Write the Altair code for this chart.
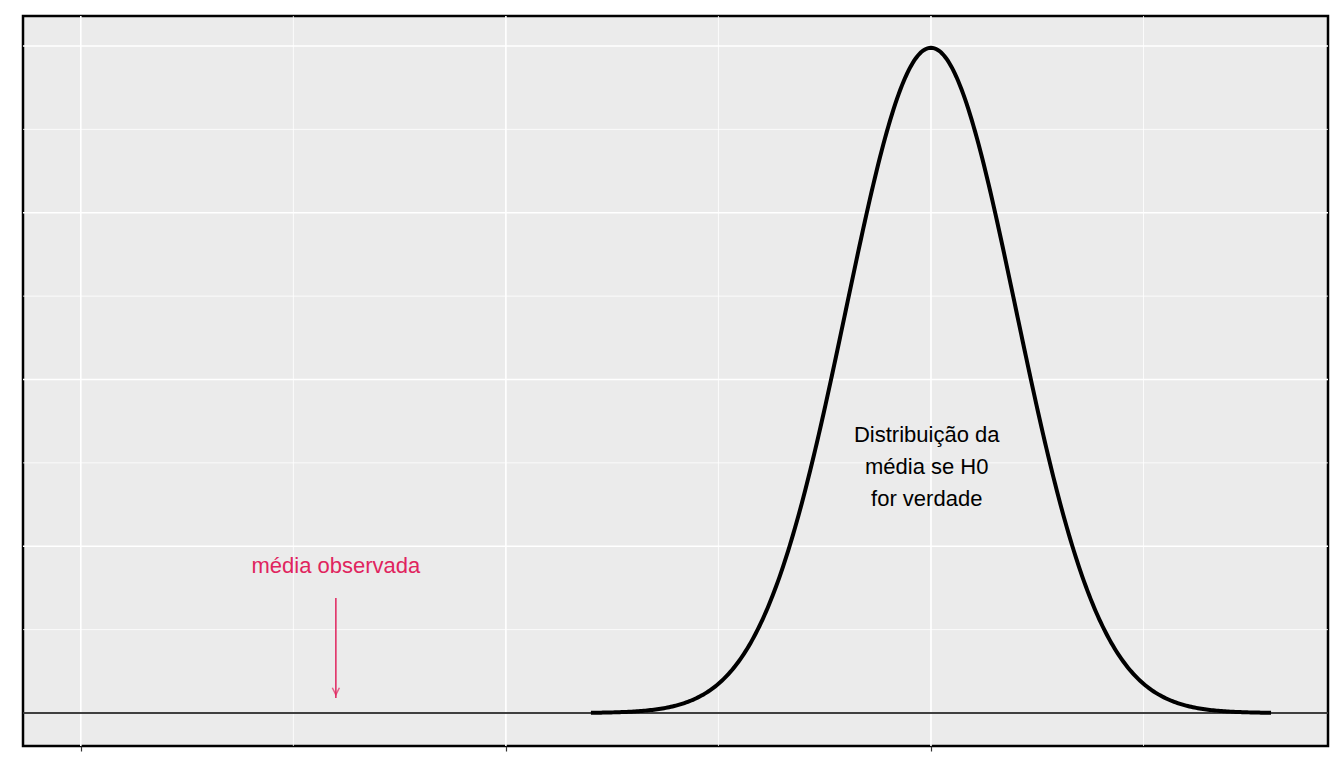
import altair as alt
import numpy as np
import pandas as pd

mean_h0 = 0.0
sd_h0 = 0.2
x_major = [-2.0, -1.0, 0.0]
x_minor = [-1.5, -0.5, 0.5]
y_major = [0.0, 0.5, 1.0, 1.5, 2.0]
y_minor = [0.25, 0.75, 1.25, 1.75]
obs_x = -1.4
label_obs = "média observada"
label_h0 = ["Distribuição da", "média se H0", "for verdade"]

xs = np.linspace(-0.8, 0.8, 401)
curve = pd.DataFrame({"x": xs, "y": np.exp(-0.5 * ((xs - mean_h0) / sd_h0) ** 2) / (sd_h0 * np.sqrt(2 * np.pi))})

xsc = alt.Scale(domain=[-2.136, 0.934], nice=False, zero=False)
ysc = alt.Scale(domain=[-0.099, 2.09], nice=False, zero=False)
W, H = 1305, 730

vminor = alt.Chart(pd.DataFrame({"x": x_minor})).mark_rule(color="white", strokeWidth=0.8).encode(x=alt.X("x:Q", scale=xsc))
hminor = alt.Chart(pd.DataFrame({"y": y_minor})).mark_rule(color="white", strokeWidth=0.8).encode(y=alt.Y("y:Q", scale=ysc))
vmajor = alt.Chart(pd.DataFrame({"x": x_major})).mark_rule(color="white", strokeWidth=1.6).encode(
    x=alt.X("x:Q", scale=xsc, axis=alt.Axis(values=x_major, labels=False, title=None, grid=False, domain=False, ticks=True, tickSize=5, tickColor="#333", tickWidth=1.2)))
hmajor = alt.Chart(pd.DataFrame({"y": y_major})).mark_rule(color="white", strokeWidth=1.6).encode(
    y=alt.Y("y:Q", scale=ysc, axis=alt.Axis(labels=False, title=None, grid=False, domain=False, ticks=False)))
zero = alt.Chart(pd.DataFrame({"y": [0.0]})).mark_rule(color="black", strokeWidth=1.5).encode(y=alt.Y("y:Q", scale=ysc))
line = alt.Chart(curve).mark_line(color="black", strokeWidth=4).encode(x=alt.X("x:Q", scale=xsc), y=alt.Y("y:Q", scale=ysc))
arrow = alt.Chart(pd.DataFrame({"x": [obs_x], "y": [0.345], "y2": [0.045]})).mark_rule(color="#E0245E", strokeWidth=1.5).encode(
    x=alt.X("x:Q", scale=xsc), y=alt.Y("y:Q", scale=ysc), y2="y2:Q")
head = alt.Chart(pd.DataFrame({"x": [obs_x], "y": [0.065]})).mark_point(shape="M-1,-1L0,1L1,-1", size=50, filled=False, strokeWidth=1.5, color="#E0245E").encode(
    x=alt.X("x:Q", scale=xsc), y=alt.Y("y:Q", scale=ysc))
t_obs = alt.Chart(pd.DataFrame({"x": [obs_x], "y": [0.44], "t": [label_obs]})).mark_text(color="#E0245E", fontSize=22, font="Liberation Sans").encode(
    x=alt.X("x:Q", scale=xsc), y=alt.Y("y:Q", scale=ysc), text="t:N")
t_h0 = alt.Chart(pd.DataFrame({"x": [-0.01], "y": [0.835], "t": [label_h0]})).mark_text(color="black", fontSize=22, font="Liberation Sans", lineHeight=32).encode(
    x=alt.X("x:Q", scale=xsc), y=alt.Y("y:Q", scale=ysc), text="t")

chart = alt.layer(vminor, hminor, vmajor, hmajor, zero, line, arrow, head, t_obs, t_h0).properties(
    width=W, height=H, padding={"left": 14, "top": 7, "right": 2, "bottom": 2}, background="white"
).configure_view(fill="#EBEBEB", stroke="black", strokeWidth=2.5)

chart.save("out.html", embed_options={"renderer": "svg", "actions": False})
